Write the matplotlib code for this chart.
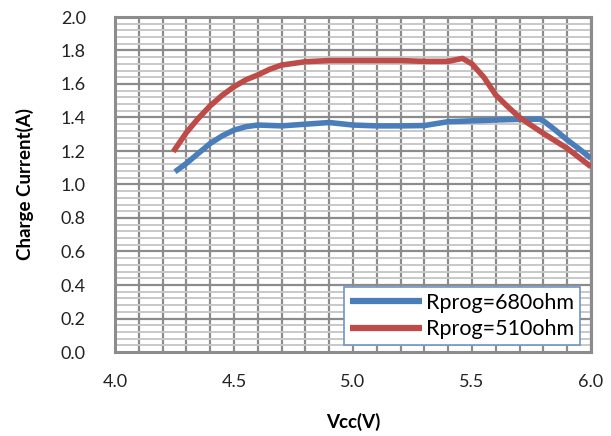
import matplotlib
matplotlib.use("Agg")
import matplotlib.pyplot as plt
import numpy as np

x_680 = [4.252, 4.30, 4.35, 4.40, 4.45, 4.50, 4.55, 4.60, 4.70, 4.80, 4.90, 5.00, 5.10, 5.20, 5.30,
         5.40, 5.50, 5.60, 5.70, 5.785, 5.80, 5.85, 5.90, 5.95, 6.00]
y_680 = [1.076, 1.126, 1.186, 1.245, 1.29, 1.325, 1.345, 1.355, 1.35, 1.36, 1.37, 1.355, 1.35, 1.35, 1.352,
         1.375, 1.38, 1.385, 1.389, 1.39, 1.38, 1.325, 1.266, 1.213, 1.156]

x_510 = [4.245, 4.30, 4.35, 4.40, 4.45, 4.50, 4.55, 4.60, 4.65, 4.70, 4.80, 4.90, 5.00, 5.10, 5.20,
         5.30, 5.40, 5.46, 5.50, 5.55, 5.60, 5.65, 5.70, 5.80, 5.90, 6.00]
y_510 = [1.196, 1.31, 1.395, 1.47, 1.532, 1.584, 1.625, 1.654, 1.688, 1.713, 1.733, 1.74, 1.74, 1.74, 1.74,
         1.735, 1.735, 1.753, 1.72, 1.64, 1.534, 1.465, 1.40, 1.305, 1.216, 1.106]

labels = ["Rprog=680ohm", "Rprog=510ohm"]
colors = ["#4A7EBB", "#BE4B48"]

plt.rcParams['font.family'] = ['Lato', 'DejaVu Sans']

fig = plt.figure(figsize=(6.11, 4.36), dpi=100)
ax = fig.add_axes([115/611, 84/436, 476/611, 335/436])

ax.set_xlim(4.0, 6.0)
ax.set_ylim(0.0, 2.0)

# grid
for xv in np.arange(4.1, 6.0, 0.1):
    ax.axvline(xv, color="#8C8C8C", lw=1.6, zorder=1)
for yv in np.arange(0.04, 2.0, 0.04):
    if abs(round(yv / 0.2) * 0.2 - yv) < 1e-6:
        ax.axhline(yv, color="#8C8C8C", lw=1.6, zorder=1)
    else:
        ax.axhline(yv, color="#C8C8C8", lw=1.4, zorder=1)

ax.plot(x_680, y_680, color=colors[0], lw=4.0, label=labels[0], zorder=3,
        solid_capstyle='butt', solid_joinstyle='round')
ax.plot(x_510, y_510, color=colors[1], lw=4.0, label=labels[1], zorder=3,
        solid_capstyle='butt', solid_joinstyle='round')

ax.set_xticks(np.arange(4.0, 6.01, 0.5))
ax.set_xticklabels([f"{v:.1f}" for v in np.arange(4.0, 6.01, 0.5)])
ax.set_yticks(np.arange(0.0, 2.01, 0.2))
ax.set_yticklabels([f"{v:.1f}" for v in np.arange(0.0, 2.01, 0.2)])
ax.tick_params(axis='both', length=0, labelsize=13, colors="#404040", labelcolor="#222222")
ax.tick_params(axis='x', pad=16)
ax.tick_params(axis='y', pad=21)

for s in ax.spines.values():
    s.set_color("#8C8C8C")
    s.set_linewidth(2.2)

ax.set_xlabel("Vcc(V)", fontsize=13.5, fontweight='bold', labelpad=16)
ax.set_ylabel("Charge Current(A)", fontsize=13.5, fontweight='bold', labelpad=19)

leg = ax.legend(loc='lower right', bbox_to_anchor=(0.976, 0.022), fontsize=15.5,
                handlelength=3.35, frameon=True, fancybox=False, framealpha=1,
                borderpad=0.25, labelspacing=0.3, handletextpad=0.2, borderaxespad=0)
leg.get_frame().set_edgecolor("#6F93C8")
leg.get_frame().set_linewidth(1.2)
for ln in leg.get_lines():
    ln.set_linewidth(4.5)
leg.set_zorder(5)

fig.savefig("out.png", dpi=100)
